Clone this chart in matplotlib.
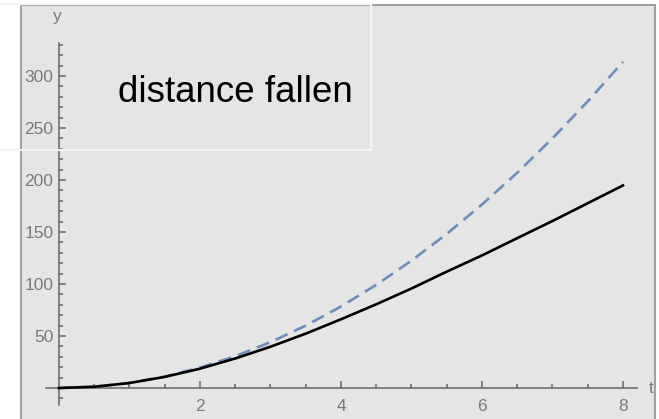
import matplotlib
matplotlib.use("Agg")
import matplotlib.pyplot as plt
from matplotlib.patches import Rectangle
from matplotlib.ticker import FixedLocator

# values (t in s, y in m)
t = [0, 0.5, 1, 1.5, 2, 2.5, 3, 3.5, 4, 4.5, 5, 5.5, 6, 6.5, 7, 7.5, 8]
free_fall = [0, 1.2, 4.9, 11.0, 19.6, 30.6, 44.1, 60.0, 78.4, 99.2, 122.5,
             148.2, 176.4, 207.0, 240.1, 275.6, 313.6]
with_drag = [0, 1.2, 4.8, 10.7, 18.6, 28.4, 39.7, 52.3, 66.1, 80.5, 95.7,
             111.9, 127.5, 144.1, 160.6, 177.7, 194.8]

y_major = [50, 100, 150, 200, 250, 300]
y_minor = [v for v in range(-10, 340, 10) if v not in y_major and v != 0]
x_major = [2, 4, 6, 8]
x_minor = [v / 2 for v in range(1, 17) if v / 2 not in x_major]

W, H = 659, 419
bg = "#e5e5e5"
axis_col = "#666666"
label_col = "#7a7a7a"

plt.rcParams["font.family"] = ["Liberation Sans", "DejaVu Sans"]

fig = plt.figure(figsize=(W / 100, H / 100), dpi=100)
ax = fig.add_axes([21 / W, 0, (655 - 21) / W, (H - 5) / H])
ax.set_facecolor(bg)
ax.set_xlim(-0.539, 8.454)
ax.set_ylim(-29.8, 368.3)

ax.plot(t, free_fall, color="#6f8cba", lw=1.9, dashes=(5.0, 2.7), zorder=3)
ax.plot(t, with_drag, color="black", lw=1.9, zorder=4)

for s in ("top", "right"):
    ax.spines[s].set_visible(False)
ax.spines["left"].set_position(("data", 0))
ax.spines["bottom"].set_position(("data", 0))
ax.spines["left"].set_bounds(-16, 332)
ax.spines["bottom"].set_bounds(-0.18, 8.2)
for s in ("left", "bottom"):
    ax.spines[s].set_color(axis_col)
    ax.spines[s].set_linewidth(1.1)

ax.yaxis.set_major_locator(FixedLocator(y_major))
ax.yaxis.set_minor_locator(FixedLocator(y_minor))
ax.xaxis.set_major_locator(FixedLocator(x_major))
ax.xaxis.set_minor_locator(FixedLocator(x_minor))
ax.tick_params(which="both", direction="in", color=axis_col, width=1.1,
               labelcolor=label_col, labelsize=12.5)
ax.tick_params(which="major", length=5)
ax.tick_params(which="minor", length=3)
ax.tick_params(axis="y", pad=4)
ax.tick_params(axis="x", pad=8)

ax.text(-0.03, 357, "y", color=label_col, fontsize=12.5, ha="center", va="center")
ax.text(8.40, 0, "t", color=label_col, fontsize=12.5, ha="center", va="center")

# outer frame of the graphic
fig.patches.append(Rectangle((21 / W, -0.05), (655 - 21) / W, (H - 5) / H + 0.05,
                             transform=fig.transFigure, fill=False,
                             edgecolor="#a0a0a0", lw=1.5, zorder=5))
# white outline of the label box
fig.patches.append(Rectangle((-8 / W, 1 - 150 / H), 379 / W, 146 / H,
                             transform=fig.transFigure, fill=False,
                             edgecolor="#f5f5f5", lw=1.6, zorder=6))

fig.text(118 / W, 1 - 102 / H, "distance fallen", fontsize=26.5, color="black",
         ha="left", va="baseline")

fig.savefig("out.png", dpi=100)
